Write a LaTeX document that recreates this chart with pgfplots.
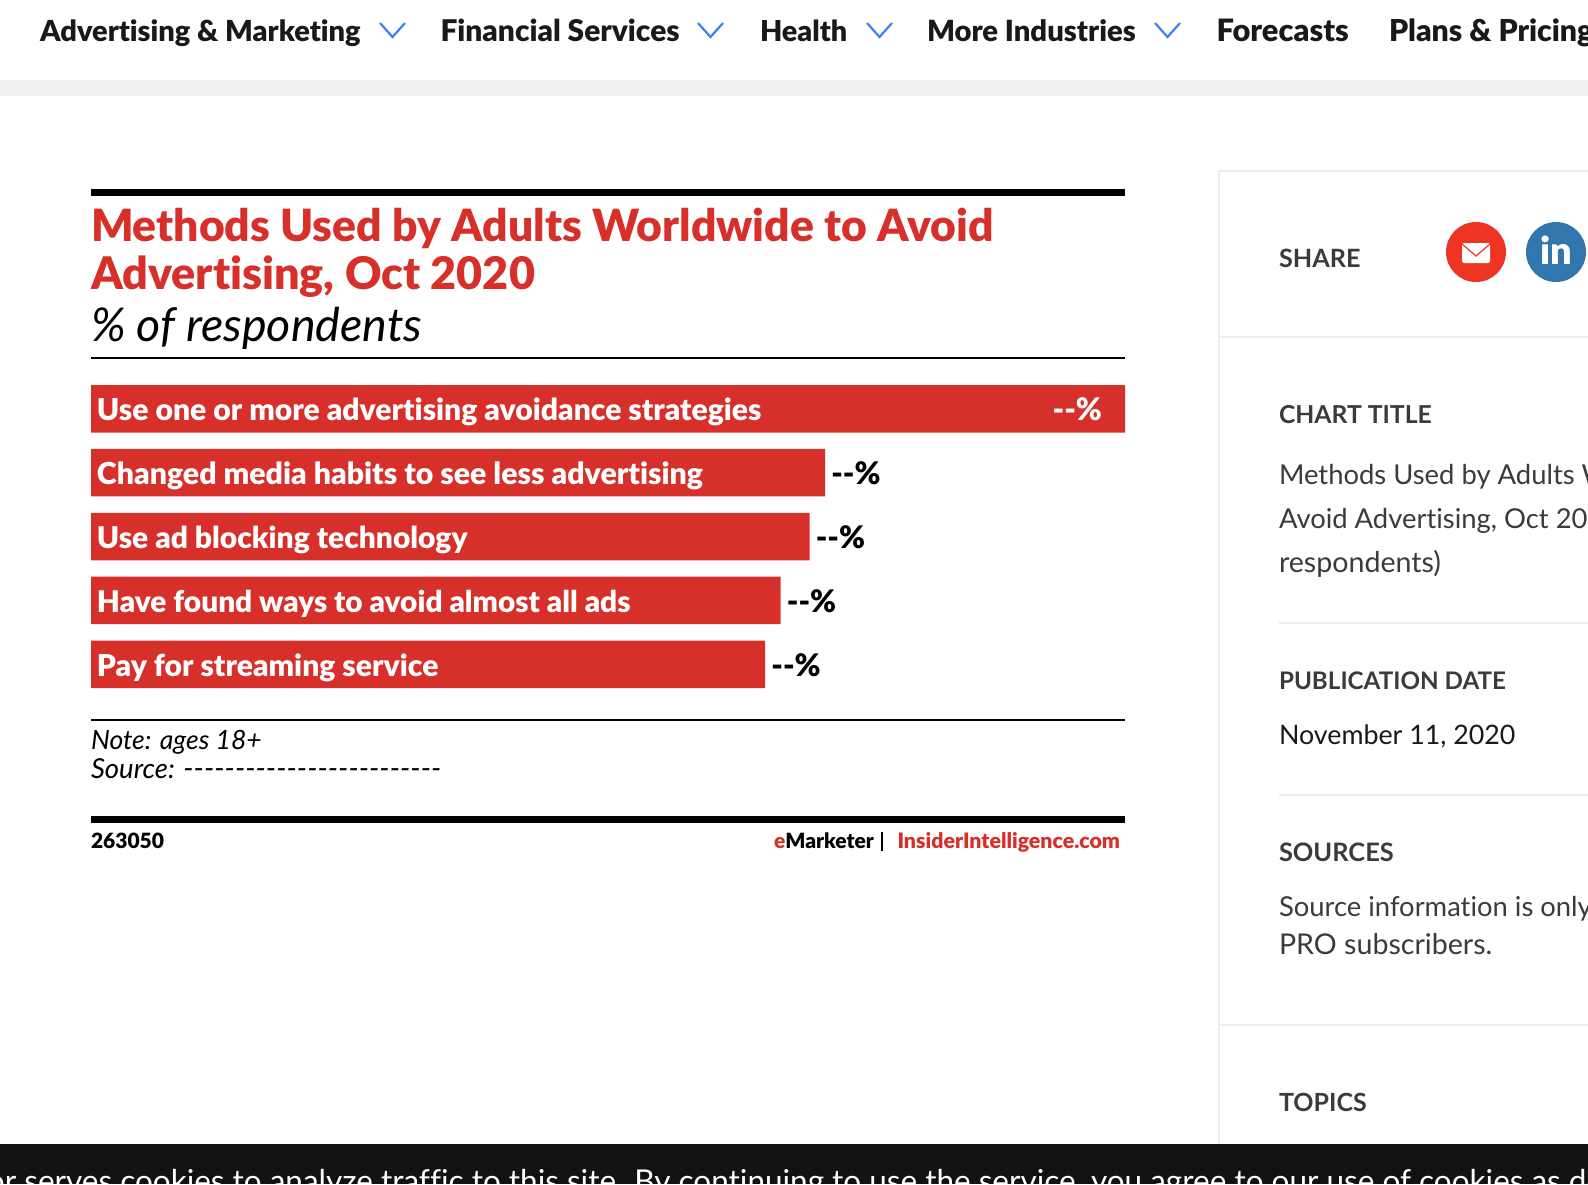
\documentclass[border=0pt]{standalone}
\usepackage{fontspec}
\setmainfont{Lato}[Ligatures={TeXOff,NoCommon}]
\newfontfamily\blk{Lato Black}[Ligatures={TeXOff,NoCommon}]
\usepackage{pgfplots}
\usepackage{pgfplotstable}
\pgfplotsset{compat=1.18}
\definecolor{emred}{HTML}{D7302A}
\definecolor{navblue}{HTML}{3B82F6}
\definecolor{side}{HTML}{3A3B3F}
\definecolor{sline}{HTML}{EDEDED}
\definecolor{mailred}{HTML}{EE3524}
\definecolor{lnblue}{HTML}{3276AE}
\pgfplotstableread{
y x
0 100
1 71
2 69.5
3 66.7
4 65.2
}\methods
\newcommand{\fs}[1]{\fontsize{#1}{#1}\selectfont}
\tikzset{t/.style={anchor=base west,inner sep=0pt,outer sep=0pt},
 r/.style={anchor=base east,inner sep=0pt,outer sep=0pt},
 lab/.style={anchor=base west,inner sep=0pt,outer sep=0pt,yshift=-6.1pt,text=white,font=\blk\fs{#1}},
 lab/.default=15.05,
 val/.style={anchor=base west,inner sep=0pt,outer sep=0pt,yshift=-6.1pt,font=\blk\fs{15.55}}}
\begin{document}
\begin{tikzpicture}[x=0.5pt,y=-0.5pt]
\useasboundingbox (0,0) rectangle (1588,1184);
\clip (0,0) rectangle (1588,1184);
\fill[white] (0,0) rectangle (1588,1184);
% nav
\fill[black!6] (0,80) rectangle (1588,96);
\foreach \xx/\sz/\tx in {40/14.5/Advertising \& Marketing,440.5/14.95/Financial Services,760/14.4/Health,927/14.6/More Industries,1216.5/15.4/Forecasts,1389/15.1/Plans \& Pricing}
  \node[t,font=\blk\fs{\sz},text=black!90] at (\xx,41.5) {\tx};
\foreach \xx in {380,698,867,1155}
  \draw[navblue,line width=1.1pt] (\xx,23) -- (\xx+12.5,37) -- (\xx+25,23);
% chart frame
\fill[black] (91,188.5) rectangle (1125,195.5);
\node[t,font=\blk\fs{22.22},text=emred] at (91,241) {Methods Used by Adults Worldwide to Avoid};
\node[t,font=\blk\fs{22.45},text=emred] at (91,289.5) {Advertising, Oct 2020};
\node[t,font=\itshape\fs{23.3},text=black] at (91,341) {\% of respondents};
\fill[black] (91,357) rectangle (1125,359);
\fill[black] (91,719) rectangle (1125,721);
\node[t,font=\itshape\fs{13.3}] at (91,749.5) {Note: ages 18+};
\node[t,font=\itshape\fs{13.75}] at (91,778) {Source: {\fs{14.7}-------------------------}};
\fill[black] (91,816) rectangle (1125,823);
\node[t,font=\blk\fs{10.5}] at (91,848.5) {263050};
\node[t,font=\blk\fs{10.5}] at (774,848.5) {\textcolor{emred}{e}Marketer};
\fill[black] (881,832) rectangle (883,851);
\node[t,font=\blk\fs{10.65},text=emred] at (897.5,848.5) {InsiderIntelligence.com};
% bars
\begin{axis}[at={(45.5pt,-192.5pt)},anchor=north west,scale only axis,width=517pt,height=151.5pt,
  xmin=0,xmax=100,ymin=-0.372,ymax=4.372,y dir=reverse,hide axis,clip=false]
\addplot[xbar,bar width=23.75pt,bar shift=0pt,fill=emred,draw=none] table[x=x,y=y] {\methods};
\node[lab] at (axis cs:0.58,0) {Use one or more advertising avoidance strategies};
\node[lab=15.13] at (axis cs:0.58,1) {Changed media habits to see less advertising};
\node[lab=14.98] at (axis cs:0.58,2) {Use ad blocking technology};
\node[lab=14.9] at (axis cs:0.58,3) {Have found ways to avoid almost all ads};
\node[lab] at (axis cs:0.58,4) {Pay for streaming service};
\node[val,text=white] at (axis cs:93,0) {--\%};
\node[val,text=black] at (axis cs:71.6,1) {--\%};
\node[val,text=black] at (axis cs:70.1,2) {--\%};
\node[val,text=black] at (axis cs:67.3,3) {--\%};
\node[val,text=black] at (axis cs:65.8,4) {--\%};
\end{axis}
% sidebar
\fill[sline] (1218,170) rectangle (1220,1144);
\fill[sline] (1220,170) rectangle (1588,172);
\fill[sline] (1220,336) rectangle (1588,338);
\fill[sline] (1279,622) rectangle (1588,624);
\fill[sline] (1279,794) rectangle (1588,796);
\fill[sline] (1220,1024) rectangle (1588,1026);
\foreach \yy/\sz/\tx in {267/12.6/SHARE,423/12.35/CHART TITLE,861/12.7/SOURCES,1111/12.5/TOPICS,689/12.1/PUBLICATION DATE}
  \node[t,font=\bfseries\fs{\sz},text=side] at (1279,\yy) {\tx};
\node[t,font=\fs{13.7},text=side] at (1279,484.5) {Methods Used by Adults Worldwide to};
\node[t,font=\fs{13.7},text=side] at (1279,528.5) {Avoid Advertising, Oct 2020 (\% of};
\node[t,font=\fs{14.3},text=side] at (1279,572) {respondents)};
\node[t,font=\fs{13.7},text=side] at (1279,916.5) {Source information is only available to};
\node[t,font=\fs{14.3},text=side] at (1279,954.5) {PRO subscribers.};
\node[t,font=\fs{13.4},text=black!90] at (1279,744.5) {November 11, 2020};
% icons
\fill[mailred] (1476,252) circle[radius=30];
\fill[white,rounded corners=1pt] (1462,243) rectangle (1490,263);
\draw[mailred,line width=0.6pt] (1462,244) -- (1476,256) -- (1490,244);
\fill[lnblue] (1556,252) circle[radius=30];
\node[font=\blk\fs{19},text=white,inner sep=0pt] at (1556,250) {in};
% cookie bar
\fill[black!93] (0,1144) rectangle (1588,1184);
\node[t,font=\fs{15.75},text=white] at (-13,1192) {or serves cookies to analyze traffic to this site. By continuing to use the service, you agree to our use of cookies as described};
\end{tikzpicture}
\end{document}
